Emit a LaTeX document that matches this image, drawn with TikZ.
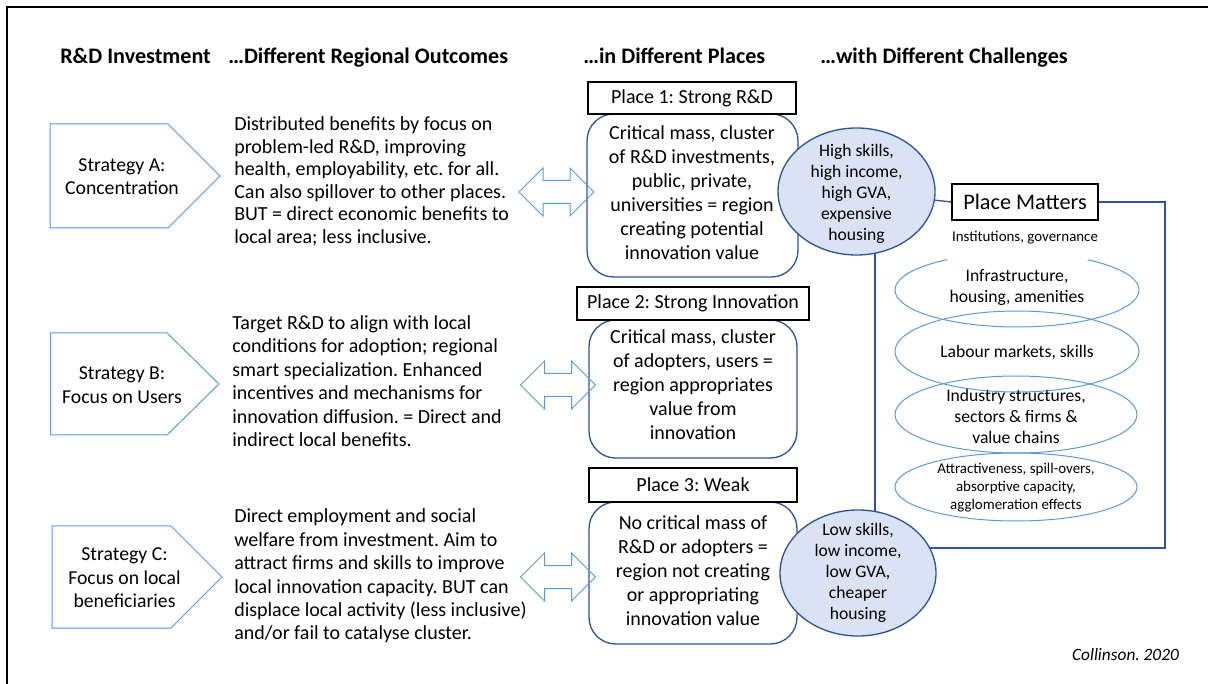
\documentclass[tikz,border=0pt]{standalone}
\usepackage{fontspec}
\setmainfont{Carlito}
\frenchspacing
\usetikzlibrary{shapes.geometric}
\definecolor{ltblue}{RGB}{91,155,213}
\definecolor{dkblue}{RGB}{47,85,151}
\definecolor{ellfill}{RGB}{218,227,243}
\pgfdeclarelayer{bg}
\pgfsetlayers{bg,main}
\tikzset{
  head/.style={font=\fontsize{16.6}{19}\selectfont\bfseries, inner sep=0, anchor=base west},
  body/.style={font=\fontsize{15}{16.9}\selectfont, inner sep=0, align=left, anchor=west},
  bodyb/.style={font=\fontsize{15}{17.6}\selectfont, inner sep=0, align=left, anchor=west},
  lab/.style={font=\fontsize{14.8}{17.6}\selectfont, inner sep=0, align=center},
  ptext/.style={font=\fontsize{15}{18}\selectfont, inner sep=0, align=center},
  ptitle/.style={draw=black, fill=white, line width=0.8pt, inner sep=0, font=\fontsize{15}{18}\selectfont},
  pbox/.style={draw=dkblue, fill=white, line width=1pt, rounded corners=20pt, inner sep=0},
  sigline/.style={draw=ltblue, line width=0.75pt},
  darrow/.pic={\draw[draw=ltblue, line width=0.75pt]
     (-37.5,0) -- (-13.5,-24) -- (-13.5,-11.5) -- (13.5,-11.5) -- (13.5,-24) -- (37.5,0)
     -- (13.5,24) -- (13.5,11.5) -- (-13.5,11.5) -- (-13.5,24) -- cycle;},
  hell/.style={ellipse, draw=dkblue, fill=ellfill, line width=1pt, inner sep=0},
  etext/.style={font=\fontsize{13.2}{15.75}\selectfont, inner sep=0, align=center},
  lell/.style={ellipse, draw=ltblue, line width=0.75pt, inner sep=0},
  ltext/.style={font=\fontsize{13.2}{15.75}\selectfont, inner sep=0, align=center},
  stext/.style={font=\fontsize{11.2}{13.5}\selectfont, inner sep=0, align=center},
  pmline/.style={draw=dkblue, line width=1pt},
}
\begin{document}
\begin{tikzpicture}[x=0.75pt,y=-0.75pt]
\useasboundingbox (0,0) rectangle (1208,684);
% frame
\coordinate (f1) at (7,690);
\coordinate (f2) at (7,7);
\coordinate (f3) at (1215,7);
\draw[line width=1.5pt] (f1) -- (f2) -- (f3);

% headings
\node[head] (h1) at (60,64) {R\&D Investment};
\node[head] (h2) at (228,64) {…Different Regional Outcomes};
\node[head] (h3) at (583,64) {…in Different Places};
\node[head] (h4) at (820,64) {…with Different Challenges};

% strategies
\draw[sigline] (50,124) -- (168,124) -- (220,176) -- (168,228) -- (50,228) -- cycle;
\node[lab] (tA) at (122,176.5) {Strategy A:\\Concentration};
\draw[sigline] (50.7,333) -- (167,333) -- (219,384) -- (167,435) -- (50.7,435) -- cycle;
\node[lab] (tB) at (122,385) {Strategy B:\\Focus on Users};
\draw[sigline] (52,526) -- (171,526) -- (222,577) -- (171,628) -- (52,628) -- cycle;
\node[lab] (tC) at (124.5,578) {Strategy C:\\Focus on local\\beneficiaries};

% outcomes
\node[body] (oA) at (234,181.5) {Distributed benefits by focus on\\problem-led R\&D, improving\\health, employability, etc. for all.\\Can also spillover to other places.\\BUT = direct economic benefits to\\local area; less inclusive.};
\node[bodyb] (oB) at (232,381) {Target R\&D to align with local\\conditions for adoption; regional\\smart specialization. Enhanced\\incentives and mechanisms for\\innovation diffusion. = Direct and\\indirect local benefits.};
\node[bodyb] (oC) at (234,576) {Direct employment and social\\welfare from investment. Aim to\\attract firms and skills to improve\\local innovation capacity. BUT can\\displace local activity (less inclusive)\\and/or fail to catalyse cluster.};

% places
\node[pbox, minimum width=158.25pt, minimum height=122.25pt] (p1) at (692.5,195.5) {};
\node[ptitle, minimum width=156pt, minimum height=24pt] (t1) at (692,98) {Place 1: Strong R\&D};
\node[ptext] (x1) at (692,193) {Critical mass, cluster\\of R\&D investments,\\public, private,\\universities = region\\creating potential\\innovation value};

\node[pbox, minimum width=156pt, minimum height=103.5pt] (p2) at (693,389) {};
\node[ptitle, minimum width=174pt, minimum height=24.75pt] (t2) at (693,303.5) {Place 2: Strong Innovation};
\node[ptext] (x2) at (693,384.5) {Critical mass, cluster\\of adopters, users =\\region appropriates\\value from\\innovation};

\node[pbox, minimum width=156pt, minimum height=106.5pt] (p3) at (693,573) {};
\node[ptitle, minimum width=156pt, minimum height=25.5pt] (t3) at (693,485) {Place 3: Weak};
\node[ptext] (x3) at (693,571) {No critical mass of\\R\&D or adopters =\\region not creating\\or appropriating\\innovation value};

% double arrows
\pic at (556.5,192) {darrow};
\pic at (558,385) {darrow};
\pic at (558,577) {darrow};

% challenge ellipses
\node[hell, minimum width=117.75pt, minimum height=95.25pt] (hi) at (856.5,191.5) {};
\node[etext] (hit) at (856.5,194) {High skills,\\high income,\\high GVA,\\expensive\\housing};
\node[hell, minimum width=117pt, minimum height=94.5pt] (lo) at (858,573) {};
\node[etext] (lot) at (858,573) {Low skills,\\low income,\\low GVA,\\cheaper\\housing};

% place matters
\node[lell, minimum width=183pt, minimum height=55.5pt] (e1) at (1017,290) {};
\node[lell, minimum width=183pt, minimum height=60.75pt] (e2) at (1017,351.5) {};
\node[lell, minimum width=181.5pt, minimum height=57.75pt] (e3) at (1016,414.5) {};
\node[lell, minimum width=181.5pt, minimum height=51pt] (e4) at (1016,487) {};
\fill[white] (947,226) rectangle (1088,260);
\node[stext] (inst) at (1025,238) {Institutions, governance};
\node[ltext] (e1t) at (1017,287.5) {Infrastructure,\\housing, amenities};
\node[ltext] (e2t) at (1017,353) {Labour markets, skills};
\node[ltext] (e3t) at (1016,416) {Industry structures,\\sectors \& firms \&\\value chains};
\node[stext] (e4t) at (1016,488) {Attractiveness, spill-overs,\\absorptive capacity,\\agglomeration effects};
\node[ptitle, minimum width=109.5pt, minimum height=27pt, font=\fontsize{16.7}{19}\selectfont] (pm) at (1025,202) {Place Matters};

\coordinate (tr) at (1165,202);
\coordinate (br) at (1165,548);
\coordinate (bl) at (875,548);
\coordinate (tl) at (875,240);
\begin{pgfonlayer}{bg}
\draw[pmline] (hi.center) -- (pm.west);
\draw[pmline] (pm.east) -- (tr) -- (br) -- (bl) -- (tl);
\end{pgfonlayer}

\node[font=\fontsize{13}{15}\selectfont\itshape, inner sep=0] (cite) at (1125.5,655) {Collinson. 2020};
\end{tikzpicture}
\end{document}
